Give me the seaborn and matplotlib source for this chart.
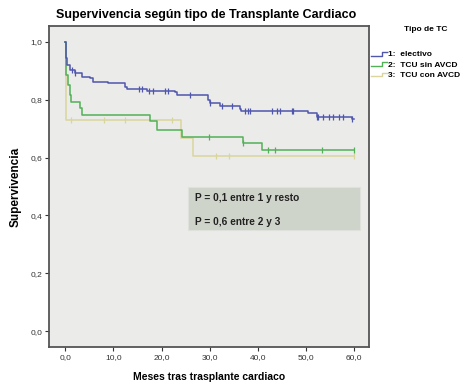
import numpy as np
import pandas as pd
import seaborn as sns
from matplotlib import pyplot as plt
from matplotlib.legend_handler import HandlerBase
from matplotlib.lines import Line2D
from matplotlib.patches import Rectangle

# Kaplan-Meier curves (meses, supervivencia)
grupos = ["electivo", "TCU sin AVCD", "TCU con AVCD"]

t_electivo = [0.0, 0.1, 0.3, 1.0, 2.0, 3.4, 5.1, 5.8, 8.9, 12.4, 12.8, 16.9, 22.8, 23.2,
              29.7, 30.1, 32.2, 36.3, 36.6, 50.5, 52.3, 59.5, 60.0]
s_electivo = [1.0, 0.945, 0.920, 0.903, 0.892, 0.880, 0.875, 0.863, 0.857, 0.845, 0.836, 0.831,
              0.828, 0.817, 0.800, 0.788, 0.778, 0.768, 0.762, 0.753, 0.742, 0.733, 0.733]
c_electivo = [1.3, 2.0, 15.2, 15.9, 17.3, 18.3, 20.7, 21.4, 25.9, 30.1, 32.5, 34.6, 37.4,
              38.0, 38.4, 42.9, 43.9, 44.6, 47.1, 47.4, 52.3, 52.6, 53.6, 54.7, 55.7, 56.8,
              57.8, 59.5]

t_sin = [0.0, 0.1, 0.6, 0.9, 1.1, 3.0, 3.5, 17.5, 19.0, 24.2, 37.0, 40.8, 60.0]
s_sin = [1.0, 0.886, 0.851, 0.817, 0.793, 0.770, 0.746, 0.726, 0.696, 0.672, 0.649, 0.626, 0.626]
c_sin = [29.9, 37.0, 42.1, 43.6, 53.4, 59.9]

t_con = [0.0, 0.05, 24.0, 26.6, 60.0]
s_con = [1.0, 0.730, 0.667, 0.607, 0.607]
c_con = [1.1, 8.0, 12.4, 22.1, 31.4, 34.1, 59.9]

colores = ["#4f56ad", "#52b157", "#d9d59c"]

x_ticks = [0, 10, 20, 30, 40, 50, 60]
y_ticks = [0.0, 0.2, 0.4, 0.6, 0.8, 1.0]


def km_value(t_list, s_list, tc):
    idx = np.searchsorted(t_list, tc, side="right") - 1
    return s_list[max(idx, 0)]


curvas = []
marcas = []
for g, tt, ss, cc in [(grupos[0], t_electivo, s_electivo, c_electivo),
                      (grupos[1], t_sin, s_sin, c_sin),
                      (grupos[2], t_con, s_con, c_con)]:
    curvas.append(pd.DataFrame({"meses": tt, "surv": ss, "grupo": g}))
    marcas.append(pd.DataFrame({"meses": cc, "surv": [km_value(tt, ss, c) for c in cc], "grupo": g}))
df = pd.concat(curvas, ignore_index=True)
df_c = pd.concat(marcas, ignore_index=True)

pal = dict(zip(grupos, colores))


class StepHandler(HandlerBase):
    def create_artists(self, legend, orig_handle, xdescent, ydescent, width, height, fontsize, trans):
        c = orig_handle.get_color()
        x0, x1 = -xdescent, -xdescent + width
        xm = x0 + width * 0.7
        ylo, yhi = -ydescent + height * 0.15, -ydescent + height * 0.75
        ln = Line2D([x0, xm, xm, x1], [ylo, ylo, yhi, yhi], color=c, lw=1.0, transform=trans)
        return [ln]


plt.rcParams["font.family"] = ["Liberation Sans", "DejaVu Sans"]

fig = plt.figure(figsize=(4.73, 3.89), dpi=100)
ax = fig.add_axes([0.1036, 0.108, 0.6765, 0.825])
ax.set_facecolor("#ebebea")

# draw yellow first, then green, then blue on top
for g in [grupos[2], grupos[1], grupos[0]]:
    sns.lineplot(data=df[df["grupo"] == g], x="meses", y="surv", color=pal[g],
                 drawstyle="steps-post", estimator=None, sort=False, lw=1.1, ax=ax, legend=False)
    sns.scatterplot(data=df_c[df_c["grupo"] == g], x="meses", y="surv", color=pal[g],
                    marker="|", s=20, linewidth=0.9, ax=ax, legend=False)

ax.set_xlim(-3.4, 63.1)
ax.set_ylim(-0.055, 1.055)
ax.set_xticks(x_ticks)
ax.set_xticklabels([f"{v:.1f}".replace(".", ",") for v in x_ticks], fontsize=6, color="#333333")
ax.set_yticks(y_ticks)
ax.set_yticklabels([f"{v:.1f}".replace(".", ",") for v in y_ticks], fontsize=6, color="#333333")
ax.tick_params(axis="both", length=3, width=0.8, color="#333333", pad=2)
for s in ax.spines.values():
    s.set_color("#555555")
    s.set_linewidth(1.3)

ax.set_xlabel("Meses tras trasplante cardiaco", fontsize=7.5, fontweight="bold", labelpad=8)
ax.set_ylabel("Supervivencia", fontsize=8.5, fontweight="bold", labelpad=6)
fig.text(0.436, 0.962, "Supervivencia según tipo de Transplante Cardiaco", fontsize=9,
         fontweight="bold", ha="center", va="center")

# p-value box
ax.add_patch(Rectangle((0.434, 0.364), 0.538, 0.134, transform=ax.transAxes,
                       fc="#cfd4ca", ec="#dfe2dc", lw=0.8, zorder=5))
ax.text(0.456, 0.465, "P = 0,1 entre 1 y resto", transform=ax.transAxes, fontsize=7.3,
        fontweight="bold", va="center", ha="left", zorder=6, color="#222222")
ax.text(0.456, 0.390, "P = 0,6 entre 2 y 3", transform=ax.transAxes, fontsize=7.3,
        fontweight="bold", va="center", ha="left", zorder=6, color="#222222")

handles = [Line2D([0], [0], color=c) for c in colores]
labels = ["1:  electivo", "2:  TCU sin AVCD", "3:  TCU con AVCD"]
leg = fig.legend(handles, labels, loc="upper left", bbox_to_anchor=(0.772, 0.885), frameon=False,
                 fontsize=6, handlelength=1.9, handletextpad=0.2, labelspacing=0.3,
                 borderpad=0.2, handler_map={Line2D: StepHandler()})
for txt in leg.get_texts():
    txt.set_fontweight("bold")
fig.text(0.900, 0.925, "Tipo de TC", fontsize=6, fontweight="bold", ha="center", va="center")

fig.savefig("out.png", dpi=100)
